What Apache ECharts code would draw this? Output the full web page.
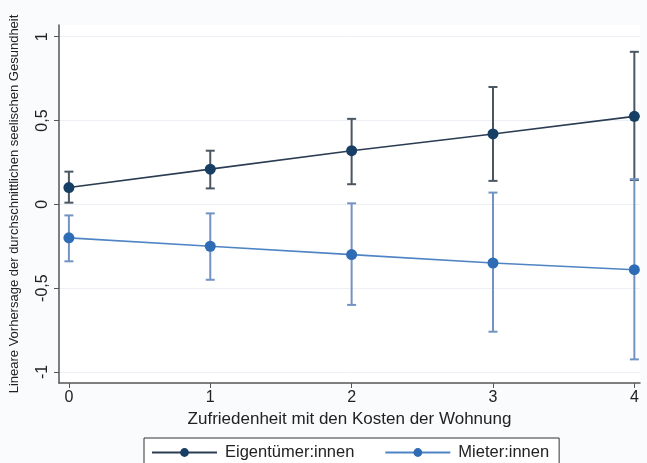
<!DOCTYPE html>
<html><head><meta charset="utf-8">
<script src="https://cdn.jsdelivr.net/npm/echarts@6/dist/echarts.min.js"></script>
<style>html,body{margin:0;padding:0;background:#fafbfc}#c{width:647px;height:463px}</style>
</head><body><div id="c"></div>
<script>
const categories = [0, 1, 2, 3, 4];
const ownerMean = [0.10, 0.21, 0.32, 0.42, 0.525];
const ownerLow  = [0.01, 0.095, 0.12, 0.14, 0.145];
const ownerHigh = [0.195, 0.32, 0.51, 0.70, 0.91];
const renterMean = [-0.20, -0.25, -0.30, -0.35, -0.39];
const renterLow  = [-0.34, -0.45, -0.60, -0.76, -0.925];
const renterHigh = [-0.066, -0.054, 0.006, 0.07, 0.15];
const yTicks = [-1, -0.5, 0, 0.5, 1];
const xTicks = [0, 1, 2, 3, 4];
const seriesNames = ['Eigentümer:innen', 'Mieter:innen'];

const FONT = 'Liberation Sans, Arial, sans-serif';
const fmt = v => String(v).replace('.', ',');

function errData(lo, hi) { return categories.map((c, i) => [c, lo[i], hi[i]]); }
function errSeries(lo, hi, color) {
  return {
    type: 'custom', silent: true, z: 1,
    data: errData(lo, hi),
    encode: { x: 0, y: [1, 2] },
    renderItem: function (params, api) {
      const x = api.value(0);
      const p1 = api.coord([x, api.value(1)]);
      const p2 = api.coord([x, api.value(2)]);
      const w = 4.5;
      const st = { stroke: color, lineWidth: 2 };
      return { type: 'group', children: [
        { type: 'line', shape: { x1: p1[0], y1: p1[1], x2: p2[0], y2: p2[1] }, style: st },
        { type: 'line', shape: { x1: p1[0] - w, y1: p1[1], x2: p1[0] + w, y2: p1[1] }, style: st },
        { type: 'line', shape: { x1: p2[0] - w, y1: p2[1], x2: p2[0] + w, y2: p2[1] }, style: st }
      ]};
    }
  };
}

const chart = echarts.init(document.getElementById('c'), null, { renderer: 'canvas' });
chart.setOption({
  backgroundColor: '#fafbfc',
  animation: false,
  textStyle: { fontFamily: FONT },
  grid: { left: 58, top: 25, right: 7, bottom: 80, show: true, backgroundColor: '#ffffff', borderWidth: 0 },
  xAxis: {
    type: 'value', min: -0.07, max: 4.04,
    name: 'Zufriedenheit mit den Kosten der Wohnung',
    nameLocation: 'middle', nameGap: 20,
    nameTextStyle: { fontSize: 17, color: '#222', fontFamily: FONT },
    axisLine: { show: true, onZero: false, lineStyle: { color: '#555', width: 1.5 } },
    axisTick: { show: true, length: 5, lineStyle: { color: '#555' }, customValues: xTicks },
    axisLabel: { fontSize: 16, color: '#222', margin: 7, customValues: xTicks },
    splitLine: { show: false }
  },
  yAxis: {
    type: 'value', min: -1.066, max: 1.07,
    name: 'Lineare Vorhersage der durchschnittlichen seelischen Gesundheit',
    nameLocation: 'middle', nameGap: 38, nameRotate: 90,
    nameTextStyle: { fontSize: 13, color: '#222', fontFamily: FONT },
    axisLine: { show: true, onZero: false, lineStyle: { color: '#555', width: 1.5 } },
    axisTick: { show: true, length: 5, lineStyle: { color: '#555' }, customValues: yTicks },
    axisLabel: { fontSize: 16, color: '#222', rotate: 90, margin: 8, customValues: yTicks, formatter: fmt },
    splitLine: { show: true, lineStyle: { color: '#eceff3', width: 1 }, customValues: yTicks }
  },
  legend: {
    data: seriesNames,
    left: 144, top: 438,
    itemGap: 30, itemWidth: 65, itemHeight: 11,
    padding: [6, 10, 8, 7],
    borderColor: '#333', borderWidth: 1, backgroundColor: '#ffffff',
    textStyle: { fontSize: 16.5, color: '#222', fontFamily: FONT, padding: [0, 0, 0, 3] }
  },
  series: [
    errSeries(ownerLow, ownerHigh, '#4b5663'),
    errSeries(renterLow, renterHigh, '#7393c2'),
    {
      name: seriesNames[0], type: 'line', z: 3,
      data: categories.map((c, i) => [c, ownerMean[i]]),
      symbol: 'circle', symbolSize: 11,
      lineStyle: { color: '#2b3d52', width: 1.6 },
      itemStyle: { color: '#173e64' }
    },
    {
      name: seriesNames[1], type: 'line', z: 3,
      data: categories.map((c, i) => [c, renterMean[i]]),
      symbol: 'circle', symbolSize: 11,
      lineStyle: { color: '#4f84c4', width: 1.6 },
      itemStyle: { color: '#2f6cb6' }
    }
  ]
});
</script></body></html>
